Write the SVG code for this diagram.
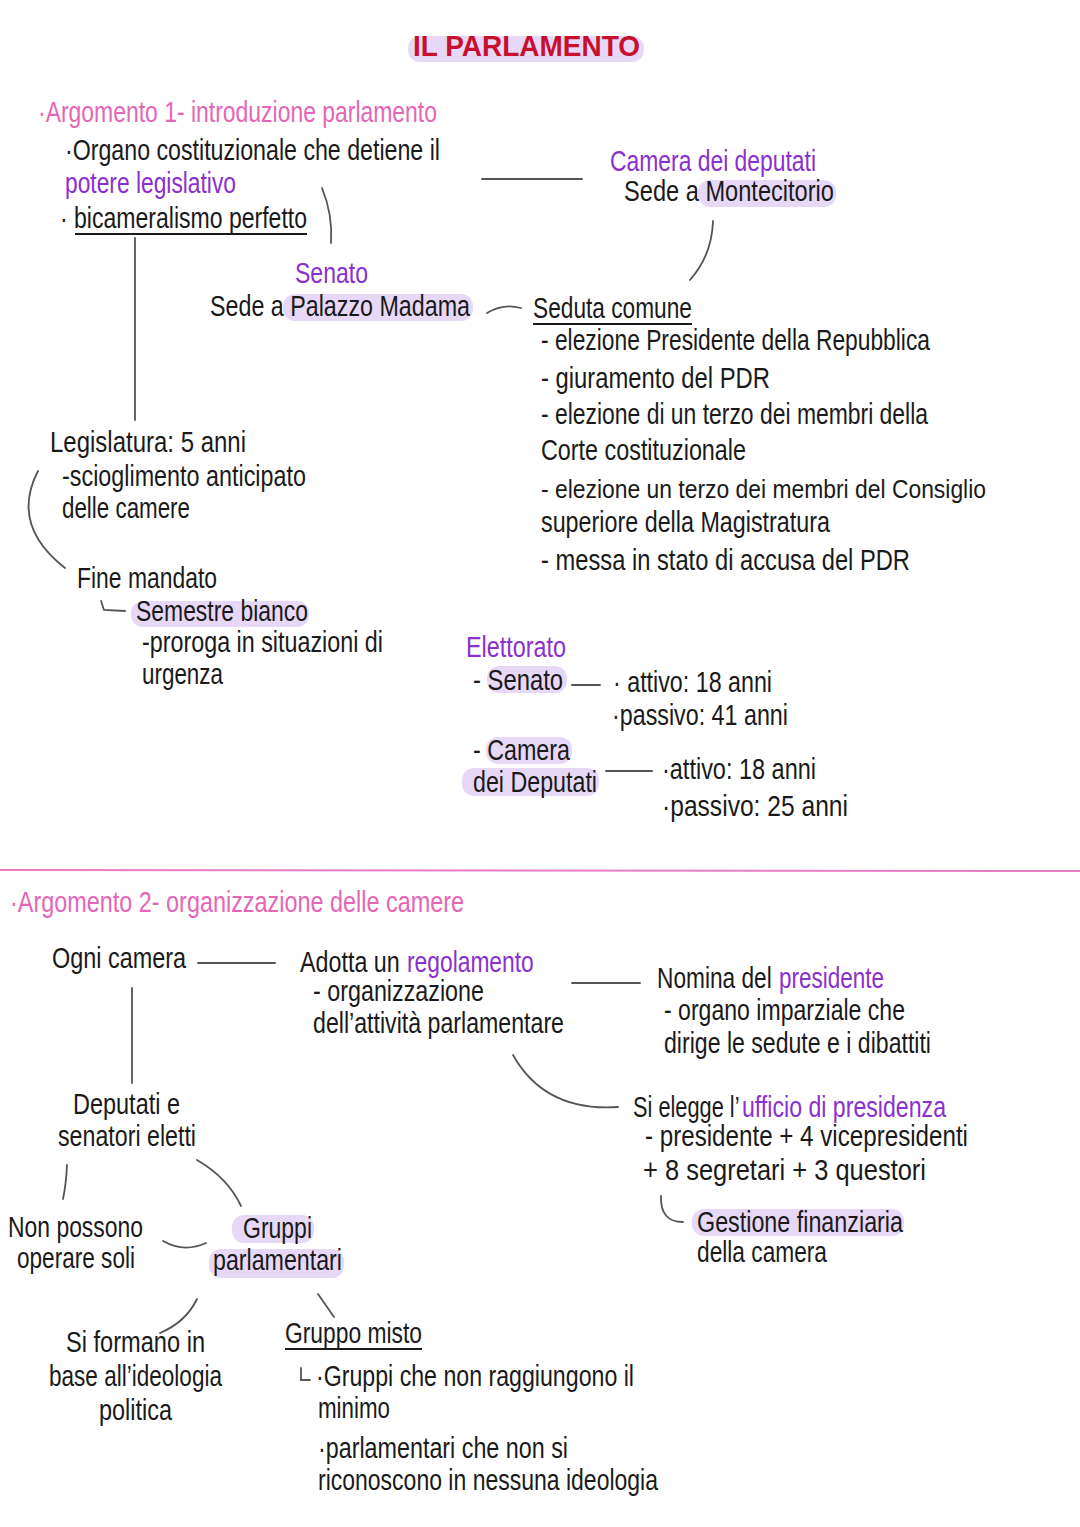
<svg xmlns="http://www.w3.org/2000/svg" width="1080" height="1527" viewBox="0 0 1080 1527">
<style>
text{font-family:"Liberation Sans","DejaVu Sans",sans-serif;font-size:29px;fill:#1a1a1a}
.p{fill:#8a2fd0}
.k{fill:#e466b6}
.t{fill:#c8102e;font-weight:bold;font-size:30px}
.s{font-size:26px}
.hl{fill:#e8d8f8}
.c{fill:none;stroke:#555;stroke-width:1.8;stroke-linecap:round}
.u{fill:none;stroke:#1a1a1a;stroke-width:1.8}
</style>
<rect width="1080" height="1527" fill="#fff"/>
<g id="highlights">
<rect class="hl" x="408" y="36" width="236" height="26" rx="12"/>
<rect class="hl" x="283" y="294" width="190" height="27" rx="12"/>
<rect class="hl" x="698" y="180" width="138" height="27" rx="12"/>
<rect class="hl" x="131" y="601" width="178" height="26" rx="12"/>
<rect class="hl" x="487" y="666" width="80" height="27" rx="12"/>
<rect class="hl" x="486" y="737" width="86" height="27" rx="12"/>
<rect class="hl" x="462" y="768" width="137" height="28" rx="12"/>
<rect class="hl" x="692" y="1209" width="212" height="27" rx="12"/>
<rect class="hl" x="232" y="1215" width="82" height="28" rx="12"/>
<rect class="hl" x="209" y="1249" width="135" height="29" rx="12"/>
</g>
<g id="connectors">
<line class="c" x1="482" y1="179" x2="582" y2="179"/>
<path class="c" d="M322 188 Q333 215 331 243"/>
<line class="c" x1="135" y1="238" x2="135" y2="420"/>
<path class="c" d="M713 221 Q712 255 690 280"/>
<path class="c" d="M487 313 Q503 303 521 308"/>
<path class="c" d="M38 471 Q10 525 65 568"/>
<path class="c" d="M101 601 L104 610 L125 611"/>
<line class="c" x1="572" y1="685" x2="600" y2="685"/>
<line class="c" x1="606" y1="771" x2="652" y2="771"/>
<line x1="0" y1="870" x2="1080" y2="871" stroke="#e87cc6" stroke-width="2"/>
<line class="c" x1="198" y1="963" x2="275" y2="963"/>
<line class="c" x1="572" y1="983" x2="640" y2="983"/>
<line class="c" x1="132" y1="988" x2="132" y2="1083"/>
<path class="c" d="M513 1055 Q545 1112 618 1107"/>
<path class="c" d="M661 1196 Q660 1222 683 1222"/>
<path class="c" d="M67 1165 Q66 1185 63 1199"/>
<path class="c" d="M197 1160 Q228 1178 241 1206"/>
<path class="c" d="M163 1241 Q184 1253 206 1243"/>
<path class="c" d="M197 1299 Q186 1322 160 1333"/>
<line class="c" x1="318" y1="1294" x2="334" y2="1317"/>
<path class="c" d="M301 1368 L301 1380 L310 1380"/>
</g>
<g id="title"><text class="t" x="413" y="56" textLength="227" lengthAdjust="spacingAndGlyphs">IL PARLAMENTO</text></g>
<g id="argomento1"><text class="k" x="38" y="122" textLength="399" lengthAdjust="spacingAndGlyphs">·Argomento 1- introduzione parlamento</text></g>
<g id="organo">
<text x="65" y="160" textLength="375" lengthAdjust="spacingAndGlyphs">·Organo costituzionale che detiene il</text>
<text class="p" x="65" y="193" textLength="171" lengthAdjust="spacingAndGlyphs">potere legislativo</text>
<text x="60" y="228" textLength="247" lengthAdjust="spacingAndGlyphs">· bicameralismo perfetto</text>
<line class="u" x1="75" y1="234" x2="307" y2="234"/>
</g>
<g id="senato">
<text class="p" x="295" y="283" textLength="73" lengthAdjust="spacingAndGlyphs">Senato</text>
<text x="210" y="316" textLength="260" lengthAdjust="spacingAndGlyphs">Sede a Palazzo Madama</text>
</g>
<g id="camera">
<text class="p" x="610" y="171" textLength="206" lengthAdjust="spacingAndGlyphs">Camera dei deputati</text>
<text x="624" y="201" textLength="210" lengthAdjust="spacingAndGlyphs">Sede a Montecitorio</text>
</g>
<g id="seduta">
<text x="533" y="318" textLength="159" lengthAdjust="spacingAndGlyphs">Seduta comune</text>
<line class="u" x1="533" y1="324" x2="692" y2="324"/>
<text x="541" y="350" textLength="389" lengthAdjust="spacingAndGlyphs">- elezione Presidente della Repubblica</text>
<text x="541" y="388" textLength="229" lengthAdjust="spacingAndGlyphs">- giuramento del PDR</text>
<text x="541" y="424" textLength="387" lengthAdjust="spacingAndGlyphs">- elezione di un terzo dei membri della</text>
<text x="541" y="460" textLength="205" lengthAdjust="spacingAndGlyphs">Corte costituzionale</text>
<text class="s" x="541" y="498" textLength="445" lengthAdjust="spacingAndGlyphs">- elezione un terzo dei membri del Consiglio</text>
<text x="541" y="532" textLength="289" lengthAdjust="spacingAndGlyphs">superiore della Magistratura</text>
<text x="541" y="570" textLength="369" lengthAdjust="spacingAndGlyphs">- messa in stato di accusa del PDR</text>
</g>
<g id="legislatura">
<text x="50" y="452" textLength="196" lengthAdjust="spacingAndGlyphs">Legislatura: 5 anni</text>
<text x="62" y="486" textLength="244" lengthAdjust="spacingAndGlyphs">-scioglimento anticipato</text>
<text x="62" y="518" textLength="128" lengthAdjust="spacingAndGlyphs">delle camere</text>
</g>
<g id="fine-mandato"><text x="77" y="588" textLength="140" lengthAdjust="spacingAndGlyphs">Fine mandato</text></g>
<g id="semestre">
<text x="136" y="621" textLength="172" lengthAdjust="spacingAndGlyphs">Semestre bianco</text>
<text x="142" y="652" textLength="241" lengthAdjust="spacingAndGlyphs">-proroga in situazioni di</text>
<text x="142" y="684" textLength="81" lengthAdjust="spacingAndGlyphs">urgenza</text>
</g>
<g id="elettorato">
<text class="p" x="466" y="657" textLength="100" lengthAdjust="spacingAndGlyphs">Elettorato</text>
<text x="473" y="690" textLength="90" lengthAdjust="spacingAndGlyphs">- Senato</text>
<text x="473" y="760" textLength="97" lengthAdjust="spacingAndGlyphs">- Camera</text>
<text x="473" y="792" textLength="124" lengthAdjust="spacingAndGlyphs">dei Deputati</text>
</g>
<g id="senato-eta">
<text x="613" y="692" textLength="159" lengthAdjust="spacingAndGlyphs">· attivo: 18 anni</text>
<text x="612" y="725" textLength="176" lengthAdjust="spacingAndGlyphs">·passivo: 41 anni</text>
</g>
<g id="camera-eta">
<text x="662" y="779" textLength="154" lengthAdjust="spacingAndGlyphs">·attivo: 18 anni</text>
<text x="662" y="816" textLength="186" lengthAdjust="spacingAndGlyphs">·passivo: 25 anni</text>
</g>
<g id="argomento2"><text class="k" x="10" y="912" textLength="454" lengthAdjust="spacingAndGlyphs">·Argomento 2- organizzazione delle camere</text></g>
<g id="ogni-camera"><text x="52" y="968" textLength="134" lengthAdjust="spacingAndGlyphs">Ogni camera</text></g>
<g id="regolamento">
<text transform="translate(300 972) scale(0.75 1)" textLength="133" lengthAdjust="spacingAndGlyphs">Adotta un</text>
<text class="p" transform="translate(407 972) scale(0.75 1)" textLength="169" lengthAdjust="spacingAndGlyphs">regolamento</text>
<text x="313" y="1001" textLength="171" lengthAdjust="spacingAndGlyphs">- organizzazione</text>
<text x="313" y="1033" textLength="251" lengthAdjust="spacingAndGlyphs">dell’attività parlamentare</text>
</g>
<g id="presidente">
<text transform="translate(657 988) scale(0.75 1)" textLength="153" lengthAdjust="spacingAndGlyphs">Nomina del</text>
<text class="p" transform="translate(779 988) scale(0.75 1)" textLength="140" lengthAdjust="spacingAndGlyphs">presidente</text>
<text x="664" y="1020" textLength="241" lengthAdjust="spacingAndGlyphs">- organo imparziale che</text>
<text x="664" y="1053" textLength="267" lengthAdjust="spacingAndGlyphs">dirige le sedute e i dibattiti</text>
</g>
<g id="ufficio">
<text transform="translate(633 1117) scale(0.75 1)" textLength="142" lengthAdjust="spacingAndGlyphs">Si elegge l’</text>
<text class="p" transform="translate(742 1117) scale(0.75 1)" textLength="272" lengthAdjust="spacingAndGlyphs">ufficio di presidenza</text>
<text x="645" y="1146" textLength="323" lengthAdjust="spacingAndGlyphs">- presidente + 4 vicepresidenti</text>
<text x="643" y="1180" textLength="283" lengthAdjust="spacingAndGlyphs">+ 8 segretari + 3 questori</text>
</g>
<g id="gestione">
<text x="697" y="1232" textLength="206" lengthAdjust="spacingAndGlyphs">Gestione finanziaria</text>
<text x="697" y="1262" textLength="130" lengthAdjust="spacingAndGlyphs">della camera</text>
</g>
<g id="eletti">
<text x="73" y="1114" textLength="107" lengthAdjust="spacingAndGlyphs">Deputati e</text>
<text x="58" y="1146" textLength="138" lengthAdjust="spacingAndGlyphs">senatori eletti</text>
</g>
<g id="non-possono">
<text x="8" y="1237" textLength="135" lengthAdjust="spacingAndGlyphs">Non possono</text>
<text x="17" y="1268" textLength="118" lengthAdjust="spacingAndGlyphs">operare soli</text>
</g>
<g id="gruppi">
<text x="243" y="1238" textLength="69" lengthAdjust="spacingAndGlyphs">Gruppi</text>
<text x="213" y="1270" textLength="129" lengthAdjust="spacingAndGlyphs">parlamentari</text>
</g>
<g id="si-formano">
<text x="66" y="1352" textLength="139" lengthAdjust="spacingAndGlyphs">Si formano in</text>
<text x="49" y="1386" textLength="173" lengthAdjust="spacingAndGlyphs">base all’ideologia</text>
<text x="99" y="1420" textLength="73" lengthAdjust="spacingAndGlyphs">politica</text>
</g>
<g id="gruppo-misto">
<text x="285" y="1343" textLength="137" lengthAdjust="spacingAndGlyphs">Gruppo misto</text>
<line class="u" x1="285" y1="1349" x2="422" y2="1349"/>
<text x="316" y="1386" textLength="318" lengthAdjust="spacingAndGlyphs">·Gruppi che non raggiungono il</text>
<text x="318" y="1418" textLength="72" lengthAdjust="spacingAndGlyphs">minimo</text>
<text x="318" y="1458" textLength="250" lengthAdjust="spacingAndGlyphs">·parlamentari che non si</text>
<text x="318" y="1490" textLength="340" lengthAdjust="spacingAndGlyphs">riconoscono in nessuna ideologia</text>
</g>
</svg>
